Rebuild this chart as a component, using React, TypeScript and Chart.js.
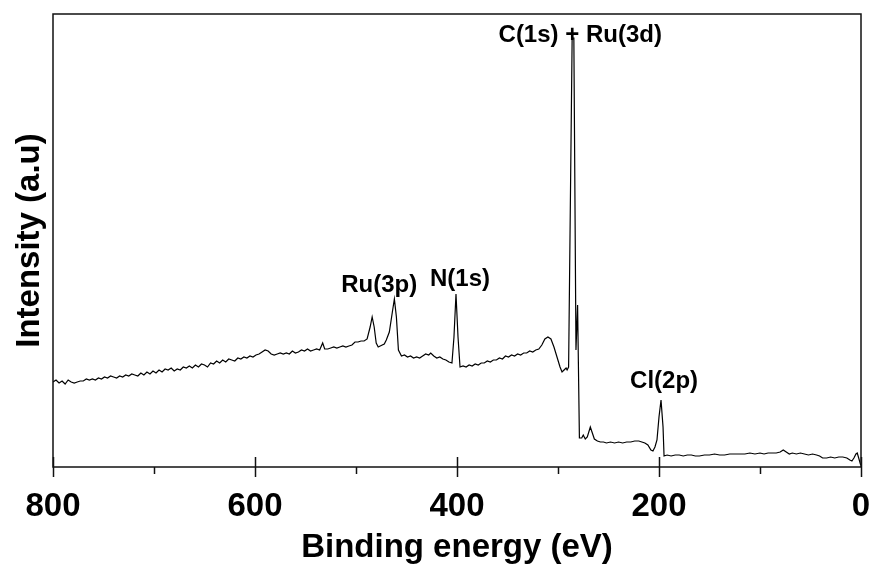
import React, { useEffect, useRef } from 'react';
import { Chart, registerables } from 'chart.js';

Chart.register(...registerables);

// Binding energy (eV), descending
const energy = [
  800, 797, 794, 791, 788, 785, 782, 779, 776, 773, 770, 767, 764, 761, 758, 755, 752, 749, 746, 743,
  740, 737, 734, 731, 728, 725, 722, 719, 716, 713, 710, 707, 704, 701, 698, 695, 692, 689, 686, 683,
  680, 677, 674, 671, 668, 665, 662, 659, 656, 653, 650, 647, 644, 641, 638, 635, 632, 629, 626, 623,
  620, 617, 614, 611, 608, 605, 602, 599, 596, 593, 590, 587, 584, 581, 578, 575, 572, 569, 566, 563,
  560, 557, 554, 551, 548, 545, 542, 539, 536, 533, 531, 528, 525, 522, 519, 516, 513, 510, 507, 504,
  501, 498, 495, 492, 489, 486, 484, 482, 480, 478, 476, 474, 472, 470, 467, 464, 462, 460, 458, 455,
  452, 449, 446, 443, 440, 437, 434, 431, 428, 426, 423, 420, 417, 414, 411, 408, 405, 403, 401, 399,
  397, 394, 391, 388, 385, 382, 379, 376, 373, 370, 367, 364, 361, 358, 355, 352, 349, 346, 343, 340,
  337, 334, 331, 328, 325, 322, 319, 316, 313, 310, 307, 304, 301, 298, 296, 294, 292, 291, 289.5, 286,
  284.3, 282.2, 280.6, 278.8, 276.5, 275, 273, 271, 268, 266, 264, 261, 258, 255, 252, 248, 244, 240,
  236, 232, 228, 224, 220, 217, 214, 211, 208, 206, 204, 202, 200, 198, 196, 195, 192, 188, 184, 180,
  176, 172, 168, 164, 160, 155, 150, 145, 140, 135, 130, 125, 120, 115, 110, 105, 100, 96, 92, 88,
  84, 80, 77, 74, 71, 68, 64, 60, 56, 52, 48, 44, 41, 38, 34, 30, 26, 22, 18, 14,
  11, 9, 7, 5, 3.7, 2, 0.3,
];

// Intensity (arbitrary units)
const intensity = [
  85, 87, 84, 86, 83, 87, 85, 84, 85, 86, 86, 88, 87, 88, 87, 89, 88, 90, 89, 91,
  90, 89, 91, 90, 92, 91, 93, 92, 91, 94, 92, 95, 93, 96, 94, 97, 95, 98, 97, 99,
  96, 98, 97, 100, 99, 101, 99, 102, 100, 103, 102, 100, 104, 103, 106, 104, 107, 105, 108, 107,
  106, 109, 108, 110, 109, 111, 110, 112, 113, 115, 117, 116, 113, 112, 113, 114, 113, 114, 113, 116,
  114, 115, 117, 116, 118, 116, 117, 118, 117, 124, 118, 118, 119, 120, 119, 120, 121, 120, 121, 122,
  125, 125, 126, 126, 128, 140, 150, 140, 124, 120, 121, 122, 123, 127, 135, 155, 168, 150, 117, 111,
  112, 110, 111, 109, 110, 109, 111, 113, 112, 114, 111, 109, 110, 108, 107, 105, 104, 130, 173, 130,
  100, 101, 100, 102, 101, 103, 102, 104, 104, 106, 105, 107, 107, 109, 108, 111, 110, 112, 111, 113,
  112, 114, 114, 116, 115, 117, 118, 122, 128, 130, 128, 120, 110, 100, 95, 97, 99, 97, 100, 429,
  429, 117, 162, 29, 29, 32, 28, 30, 40, 34, 28, 26, 25, 25, 24, 25, 24, 25,
  24, 25, 25, 26, 26, 25, 24, 22, 17, 16, 20, 27, 50, 67, 40, 11, 12, 11, 12, 12,
  11, 12, 12, 11, 11, 12, 12, 13, 12, 12, 13, 13, 13, 13, 14, 13, 14, 13, 14, 14,
  14, 15, 17, 15, 13, 14, 13, 14, 13, 12, 13, 12, 11, 9, 9, 10, 9, 10, 10, 9,
  7, 6, 9, 13, 14, 8, 2,
];

const xTickValues = [0, 100, 200, 300, 400, 500, 600, 700, 800];
const xMajorStep = 200;

const peakLabels = ['C(1s) + Ru(3d)', 'Ru(3p)', 'N(1s)', 'Cl(2p)'];
const peakLabelEnergy = [278, 477, 397, 195];
const peakLabelIntensity = [432, 182, 188, 86];

const FONT = '"Liberation Sans", Arial, Helvetica, sans-serif';

const framePlugin = {
  id: 'xpsFrame',
  afterDraw(chart: any) {
    const { ctx, chartArea: a, scales } = chart;
    const xs = scales.x;
    const ys = scales.y;
    ctx.save();
    ctx.strokeStyle = '#111';
    ctx.lineWidth = 1.5;
    ctx.strokeRect(a.left, a.top, a.right - a.left, a.bottom - a.top);
    xs.ticks.forEach((t: any) => {
      const px = Math.round(xs.getPixelForValue(t.value)) + 0.5;
      const major = t.value % xMajorStep === 0;
      ctx.beginPath();
      ctx.moveTo(px, major ? a.bottom - 10 : a.bottom);
      ctx.lineTo(px, a.bottom + (major ? 10 : 7));
      ctx.stroke();
    });
    ctx.fillStyle = '#000';
    ctx.font = `bold 24px ${FONT}`;
    ctx.textAlign = 'center';
    ctx.textBaseline = 'middle';
    peakLabels.forEach((s, i) => {
      ctx.fillText(s, xs.getPixelForValue(peakLabelEnergy[i]), ys.getPixelForValue(peakLabelIntensity[i]));
    });
    ctx.restore();
  },
};

export default function App() {
  const ref = useRef<HTMLCanvasElement>(null);
  useEffect(() => {
    if (!ref.current) return;
    const chart = new Chart(ref.current, {
      type: 'line',
      data: {
        datasets: [
          {
            data: energy.map((e, i) => ({ x: e, y: intensity[i] })),
            borderColor: '#000',
            borderWidth: 1.2,
            pointRadius: 0,
            tension: 0,
            fill: false,
          },
        ],
      },
      options: {
        animation: false,
        responsive: false,
        layout: { padding: { top: 14, right: 14, left: 0, bottom: 0 } },
        plugins: { legend: { display: false }, tooltip: { enabled: false } },
        scales: {
          x: {
            type: 'linear',
            reverse: true,
            min: 0,
            max: 800,
            afterBuildTicks: (s: any) => {
              s.ticks = xTickValues.map((v) => ({ value: v }));
            },
            afterFit: (s: any) => {
              s.height = 106;
            },
            ticks: {
              autoSkip: false,
              maxRotation: 0,
              padding: 10,
              color: '#000',
              font: { family: FONT, size: 33, weight: 'bold' },
              callback: (v: any) => (Number(v) % xMajorStep === 0 ? String(v) : ''),
            },
            grid: { drawOnChartArea: false, color: 'rgba(0,0,0,0)', tickLength: 10 },
            border: { display: false },
            title: {
              display: true,
              text: 'Binding energy (eV)',
              color: '#000',
              font: { family: FONT, size: 33, weight: 'bold' },
              padding: { top: 0, bottom: 5 },
            },
          },
          y: {
            type: 'linear',
            min: 0,
            max: 453,
            afterFit: (s: any) => {
              s.width = 53;
            },
            ticks: { display: false },
            grid: { display: false, drawTicks: false },
            border: { display: false },
            title: {
              display: true,
              text: 'Intensity (a.u)',
              color: '#000',
              font: { family: FONT, size: 33, weight: 'bold' },
              padding: { top: 10, bottom: 0 },
            },
          },
        },
      },
      plugins: [framePlugin],
    });
    return () => chart.destroy();
  }, []);
  return (
    <canvas
      ref={ref}
      width={875}
      height={573}
      style={{ position: 'fixed', left: 0, top: 0, width: 875, height: 573, display: 'block', background: '#fff' }}
    />
  );
}
